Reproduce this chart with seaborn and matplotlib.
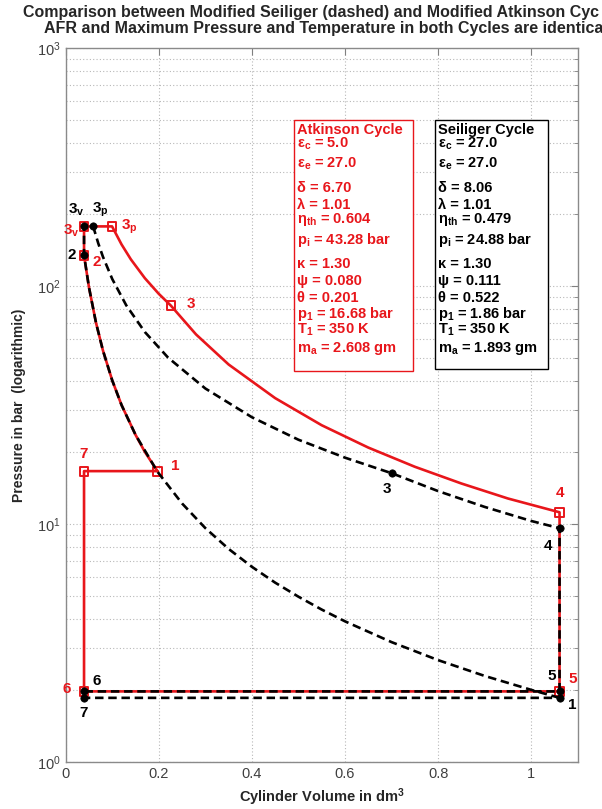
import matplotlib
matplotlib.use("Agg")
import matplotlib.pyplot as plt
import seaborn as sns
import pandas as pd
from matplotlib.patches import Rectangle
from matplotlib.ticker import LogLocator, FixedLocator, NullFormatter

# ---------------- data ----------------
# state points (V in dm^3, p in bar)
atk_names = ["1", "2", "3$_\\mathbf{v}$", "3$_\\mathbf{p}$", "3", "4", "5", "6", "7"]
atk_V = [0.197, 0.0394, 0.0394, 0.0996, 0.226, 1.061, 1.061, 0.0394, 0.0394]
atk_p = [16.68, 134.5, 178.0, 178.0, 82.7, 11.2, 1.98, 1.98, 16.68]

sei_names = ["1", "2", "3$_\\mathbf{v}$", "3$_\\mathbf{p}$", "3", "4", "5", "6", "7"]
sei_V = [1.061, 0.0394, 0.0394, 0.059, 0.702, 1.061, 1.061, 0.0394, 0.0394]
sei_p = [1.86, 134.5, 178.0, 178.0, 16.3, 9.6, 1.98, 1.98, 1.86]

# Atkinson process curves
atk_comp_V = [0.197, 0.17, 0.15, 0.12, 0.10, 0.08, 0.065, 0.05, 0.0394]
atk_comp_p = [16.68, 20.1, 23.7, 31.6, 40.1, 53.6, 70.2, 98.7, 134.5]
atk_heat_V = [0.0996, 0.12, 0.14, 0.17, 0.20, 0.226]
atk_heat_p = [178.0, 149.5, 129.4, 107.9, 92.7, 82.7]
atk_exp_V = [0.226, 0.28, 0.35, 0.45, 0.55, 0.65, 0.75, 0.85, 0.95, 1.061]
atk_exp_p = [82.7, 62.6, 46.8, 33.8, 26.0, 20.95, 17.4, 14.8, 12.8, 11.2]

# Seiliger process curves
sei_comp_V = [1.061, 1.0, 0.9, 0.8, 0.7, 0.6, 0.55, 0.5, 0.45, 0.4, 0.35, 0.3,
              0.25, 0.197, 0.15, 0.12, 0.10, 0.08, 0.065, 0.05, 0.0394]
sei_comp_p = [1.86, 2.01, 2.30, 2.68, 3.19, 3.90, 4.37, 4.95, 5.67, 6.61, 7.86, 9.61,
              12.2, 16.6, 23.7, 31.6, 40.1, 53.6, 70.2, 98.7, 134.5]
sei_heat_V = [0.059, 0.07, 0.08, 0.10, 0.13, 0.17, 0.22, 0.30, 0.40, 0.50, 0.60, 0.702]
sei_heat_p = [178.0, 151.0, 132.7, 107.0, 83.0, 64.1, 50.0, 37.1, 28.1, 22.6, 19.0, 16.3]
sei_exp_V = [0.702, 0.8, 0.9, 1.0, 1.061]
sei_exp_p = [16.3, 13.75, 11.8, 10.3, 9.6]

atk_info = ["Atkinson Cycle", "ε$_\\mathbf{c}$ = 5.0", "ε$_\\mathbf{e}$ = 27.0", "δ = 6.70",
            "λ = 1.01", "η$_\\mathbf{th}$ = 0.604", "p$_\\mathbf{i}$ = 43.28 bar", "κ = 1.30",
            "ψ = 0.080", "θ = 0.201", "p$_\\mathbf{1}$ = 16.68 bar", "T$_\\mathbf{1}$ = 350 K",
            "m$_\\mathbf{a}$ = 2.608 gm"]
sei_info = ["Seiliger Cycle", "ε$_\\mathbf{c}$ = 27.0", "ε$_\\mathbf{e}$ = 27.0", "δ = 8.06",
            "λ = 1.01", "η$_\\mathbf{th}$ = 0.479", "p$_\\mathbf{i}$ = 24.88 bar", "κ = 1.30",
            "ψ = 0.111", "θ = 0.522", "p$_\\mathbf{1}$ = 1.86 bar", "T$_\\mathbf{1}$ = 350 K",
            "m$_\\mathbf{a}$ = 1.893 gm"]

# title as it runs to the right edge of the figure
title_lines = ["Comparison between Modified Seiliger (dashed) and Modified Atkinson Cyc",
               "AFR and Maximum Pressure and Temperature in both Cycles are identica"]

# ---------------- style ----------------
sns.set_style("white")
plt.rcParams["font.family"] = ["Liberation Sans", "DejaVu Sans"]
plt.rcParams["mathtext.fontset"] = "custom"
plt.rcParams["mathtext.rm"] = "Liberation Sans"
plt.rcParams["mathtext.bf"] = "Liberation Sans:bold"
plt.rcParams["mathtext.it"] = "Liberation Sans:italic"

RED = "#e8161b"
BLACK = "#000000"
W, H = 602, 809


def fx(px):
    return px / W


def fy(py):
    return 1 - py / H


fig = plt.figure(figsize=(W / 100, H / 100), dpi=100)
ax = fig.add_axes([fx(65.7), fy(762), fx(577.7) - fx(65.7), fy(48) - fy(762)])


def path(stateV, statep, segments, tail):
    Vs, ps = [], []
    for seg in segments:
        if isinstance(seg, tuple):
            Vs += list(seg[0]); ps += list(seg[1])
        else:
            Vs.append(stateV[seg]); ps.append(statep[seg])
    for i in tail:
        Vs.append(stateV[i]); ps.append(statep[i])
    return pd.DataFrame({"V": Vs, "p": ps})


atk_path = path(atk_V, atk_p,
                [(atk_comp_V, atk_comp_p), 2, (atk_heat_V, atk_heat_p), (atk_exp_V, atk_exp_p)],
                [6, 7, 8, 0])
sei_path = path(sei_V, sei_p,
                [(sei_comp_V, sei_comp_p), 2, (sei_heat_V, sei_heat_p), (sei_exp_V, sei_exp_p)],
                [6, 7, 8, 0])

# Atkinson cycle: solid red with open squares
sns.lineplot(data=atk_path, x="V", y="p", sort=False, estimator=None, color=RED,
             linewidth=1.9, ax=ax, zorder=3)
sns.scatterplot(x=atk_V, y=atk_p, marker="s", s=40, ax=ax, zorder=4, color=RED)
coll = ax.collections[-1]
coll.set_facecolor("none"); coll.set_edgecolor(RED); coll.set_linewidth(1.4)

# Seiliger cycle: dashed black with filled dots
sns.lineplot(data=sei_path, x="V", y="p", sort=False, estimator=None, color=BLACK,
             linewidth=1.9, ax=ax, zorder=5)
ax.lines[-1].set_dashes([3.2, 1.8])
sns.scatterplot(x=sei_V, y=sei_p, marker="o", s=28, ax=ax, zorder=6, color=BLACK,
                edgecolor=BLACK, linewidth=0.5)

# state labels (offsets in pixels: right, down)
atk_off = [(18, -5, "center"), (13, 7, "center"), (-5, 4, "right"), (9, 0, "left"),
           (20, -2, "center"), (0, -19, "center"), (13, -12, "center"),
           (-17, -2, "center"), (0, -17, "center")]
sei_off = [(13, 7, "center"), (-12, 0, "center"), (-8, -17, "center"), (7, -17, "center"),
           (-6, 16, "center"), (-12, 18, "center"), (-8, -15, "center"),
           (13, -10, "center"), (0, 15, "center")]
for names, Vs, ps, offs, col in [(atk_names, atk_V, atk_p, atk_off, RED),
                                  (sei_names, sei_V, sei_p, sei_off, BLACK)]:
    for n, v, p, (dx, dy, ha) in zip(names, Vs, ps, offs):
        ax.annotate(n, (v, p), xytext=(dx * 0.72, -dy * 0.72), textcoords="offset points",
                    ha=ha, va="center", color=col, fontsize=11, fontweight="bold", zorder=7)

# axes
ax.set_yscale("log")
ax.set_xlim(0, 1.1)
ax.set_ylim(1, 1000)
ax.xaxis.set_major_locator(FixedLocator([0, 0.2, 0.4, 0.6, 0.8, 1.0]))
ax.set_xticklabels(["0", "0.2", "0.4", "0.6", "0.8", "1"])
ax.yaxis.set_major_locator(LogLocator(base=10, numticks=10))
ax.yaxis.set_minor_locator(LogLocator(base=10, subs=range(2, 10), numticks=20))
ax.yaxis.set_minor_formatter(NullFormatter())
ax.grid(True, which="major", axis="both", linestyle=(0, (1, 2)), color="#b8b8b8", linewidth=0.8)
ax.grid(True, which="minor", axis="y", linestyle=(0, (1, 2)), color="#b8b8b8", linewidth=0.8)
ax.set_axisbelow(True)
ax.tick_params(which="both", direction="in", top=True, right=True, color="#808080",
               labelsize=10.5, labelcolor="#404040")
ax.tick_params(which="major", length=5)
ax.tick_params(which="minor", length=3)
for s in ax.spines.values():
    s.set_color("#8a8a8a"); s.set_linewidth(1.0)
ax.set_xlabel("")
ax.set_ylabel("")

fig.text(fx(322), fy(797), "Cylinder Volume in dm$^\\mathbf{3}$", ha="center", va="center",
         fontsize=10.5, fontweight="bold")
fig.text(fx(19), fy(405), "Pressure in bar  (logarithmic)", ha="center", va="center",
         rotation=90, fontsize=10, fontweight="bold")
fig.text(fx(23), fy(13), title_lines[0], ha="left", va="center", fontsize=11.5,
         fontweight="bold")
fig.text(fx(44), fy(29), title_lines[1], ha="left", va="center", fontsize=11.5,
         fontweight="bold")

# info boxes
baselines = [134.3, 147.7, 167.3, 192.3, 209.3, 223.3, 244, 267.7, 285, 302, 317.5, 334, 352.3]
for info, col, (x0, x1, y0, y1) in [(atk_info, RED, (294, 413, 120, 371)),
                                     (sei_info, BLACK, (435, 548, 120, 369))]:
    fig.patches.append(Rectangle((fx(x0), fy(y1)), fx(x1) - fx(x0), fy(y0) - fy(y1),
                                 transform=fig.transFigure, facecolor="white",
                                 edgecolor=col, linewidth=1.0, zorder=8))
    for txt, b in zip(info, baselines):
        fig.text(fx(x0 + 3), fy(b), txt, ha="left", va="baseline", color=col,
                 fontsize=10.5, fontweight="bold", zorder=9)

fig.savefig("out.png", dpi=100)
